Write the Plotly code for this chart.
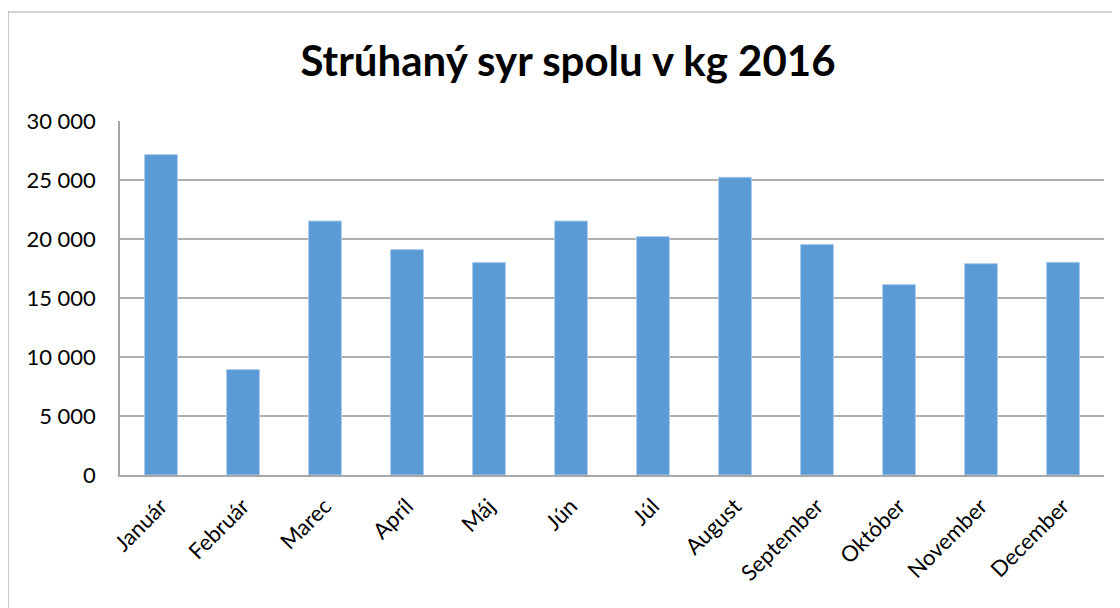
import plotly.graph_objects as go

months = ["Január", "Február", "Marec", "Apríl", "Máj", "Jún", "Júl",
          "August", "September", "Október", "November", "December"]
values = [27150, 8930, 21520, 19100, 18000, 21520, 20200,
          25230, 19530, 16130, 17910, 18030]
title_text = "Strúhaný syr spolu v kg 2016"
y_ticks = [0, 5000, 10000, 15000, 20000, 25000, 30000]

# page body has an 8px default margin; compensate so the plot lands where intended
OFF = 8
W, H = 1120, 608
ML, MR, MT, MB = 120 - OFF, 1120 - 1104 + OFF, 121 - OFF, 608 - 475 + OFF
PW, PH = W - ML - MR, H - MT - MB

def px_x(px):
    return (px - OFF - ML) / PW

def px_y(py):
    return (H - MB - (py - OFF)) / PH

font_family = "Lato, 'Open Sans', sans-serif"

fig = go.Figure(go.Bar(
    x=months, y=values,
    marker=dict(color="#5b9bd5", line=dict(color="#a9c9ec", width=1)),
))

fig.update_layout(
    width=W, height=H,
    margin=dict(l=ML, r=MR, t=MT, b=MB),
    paper_bgcolor="white", plot_bgcolor="white",
    separators=", ",
    bargap=0.6,
    showlegend=False,
    font=dict(family=font_family, color="black", size=22),
    title=dict(text="<b>" + title_text + "</b>", x=(568 - OFF) / W, xanchor="center",
               y=1 - (61 - OFF) / H, yanchor="middle",
               font=dict(family=font_family, size=42, color="black")),
    xaxis=dict(
        showline=True, linecolor="#a6a6a6", linewidth=1.5,
        tickangle=-45, ticks="", ticklabelstandoff=8,
        tickfont=dict(size=22, family=font_family),
        showgrid=False,
    ),
    yaxis=dict(
        range=[0, 30000], tickvals=y_ticks, tickformat=",d",
        showgrid=True, gridcolor="#b0b0b0", gridwidth=1.5,
        showline=True, linecolor="#a6a6a6", linewidth=1.5,
        ticks="", ticklabelstandoff=18,
        tickfont=dict(size=22, family=font_family),
        zeroline=False,
    ),
    shapes=[dict(type="rect", xref="paper", yref="paper",
                 x0=px_x(8), x1=px_x(1140), y0=px_y(12), y1=px_y(640),
                 line=dict(color="#a6a6a6", width=1.2), fillcolor="rgba(0,0,0,0)",
                 layer="below")],
)

fig.write_html("out.html")
